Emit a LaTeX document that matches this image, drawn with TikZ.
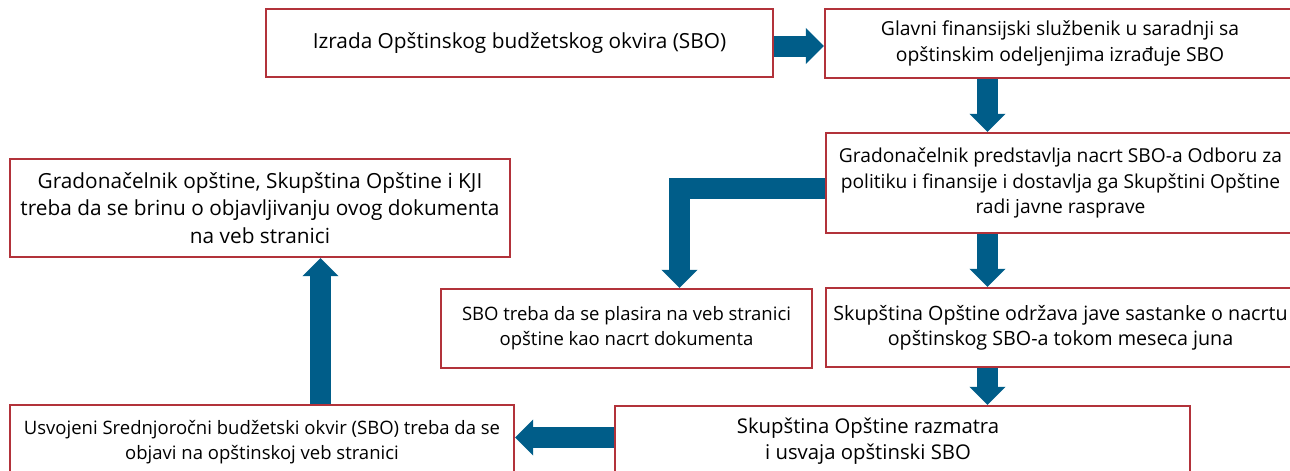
\documentclass[tikz,border=0pt]{standalone}
\usepackage{fontspec}
\setmainfont{Open Sans}
\usetikzlibrary{arrows.meta}
\definecolor{boxred}{RGB}{178,50,58}
\definecolor{arrblue}{RGB}{0,93,137}
\newcommand{\fsz}[2]{\fontsize{#1}{#2}\selectfont}
\begin{document}
\begin{tikzpicture}[x=1pt,y=-1pt,
  box/.style={draw=boxred,line width=2.2pt,rectangle,inner sep=0pt,align=center},
  arr/.style={draw=arrblue,line width=21pt,line join=miter,
    -{Triangle[width=35pt,length=18pt,fill=arrblue,color=arrblue]}}]
\useasboundingbox (0,0) rectangle (1290,471);
\node[box,font=\fsz{20.8}{26},minimum width=507pt,minimum height=68pt] (b1) at (519.5,43)
  {Izrada Opštinskog budžetskog okvira (SBO)};
\node[box,font=\fsz{19.3}{26},minimum width=470pt,minimum height=69pt] (b2) at (1060,43.5)
  {Glavni finansijski službenik u saradnji sa\\opštinskim odeljenjima izrađuje SBO};
\node[box,font=\fsz{19.2}{25.5},minimum width=469pt,minimum height=100pt] (b3) at (1060.5,183)
  {Gradonačelnik predstavlja nacrt SBO-a Odboru za\\politiku i finansije i dostavlja ga Skupštini Opštine\\radi javne rasprave};
\node[box,font=\fsz{20.8}{27.5},minimum width=500pt,minimum height=98pt] (b4) at (260,208)
  {Gradonačelnik opštine, Skupština Opštine i KJI\\treba da se brinu o objavljivanju ovog dokumenta\\na veb stranici};
\node[box,font=\fsz{18.5}{25},minimum width=371pt,minimum height=79pt] (b5) at (626.5,328.5)
  {SBO treba da se plasira na veb stranici\\opštine kao nacrt dokumenta};
\node[box,font=\fsz{19.7}{25},minimum width=469pt,minimum height=79pt] (b6) at (1060.5,327.5)
  {Skupština Opštine održava jave sastanke o nacrtu\\opštinskog SBO-a tokom meseca juna};
\node[box,font=\fsz{18.5}{25},minimum width=504pt,minimum height=75pt] (b7) at (262,442.5)
  {Usvojeni Srednjoročni budžetski okvir (SBO) treba da se\\objavi na opštinskoj veb stranici};
\node[box,minimum width=575pt,minimum height=74pt] (b8) at (902.5,443) {};
\node[box,draw=none,font=\fsz{20.3}{26}] (b8t) at (868,441) {Skupština Opštine razmatra\\i usvaja opštinski SBO};
\coordinate (colx) at (987.5,0);
\coordinate (col5) at (679.5,0);
\coordinate (col7) at (320.5,0);
\coordinate (row1) at (0,46);
\coordinate (row3) at (0,188.5);
\coordinate (row8) at (0,437.5);
\draw[arr] (b1.east |- row1) -- (b2.west |- row1);
\draw[arr] (b2.south -| colx) -- (b3.north -| colx);
\draw[arr] (b3.west |- row3) -| (b5.north -| col5);
\draw[arr] (b3.south -| colx) -- (b6.north -| colx);
\draw[arr] (b6.south -| colx) -- (b8.north -| colx);
\draw[arr] (b8.west |- row8) -- (b7.east |- row8);
\draw[arr] (b7.north -| col7) -- (b4.south -| col7);
\end{tikzpicture}
\end{document}
